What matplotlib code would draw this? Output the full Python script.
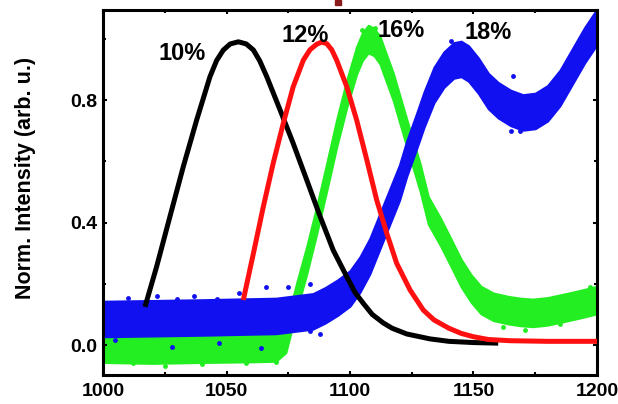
import numpy as np
import matplotlib
matplotlib.use("Agg")
import matplotlib.pyplot as plt
from matplotlib.patches import Rectangle
from matplotlib.ticker import MultipleLocator

# emission spectra, normalized (wavelength in nm)
black_x = [1017.0, 1021.7, 1027.1, 1032.5, 1037.9, 1043.3, 1046.0, 1048.7, 1051.5, 1054.8,
           1058.0, 1060.9, 1063.5, 1066.3, 1071.7, 1077.0, 1082.5, 1087.9, 1093.2, 1098.7,
           1102.0, 1105.4, 1109.0, 1113.5, 1117.0, 1123.0, 1132.4, 1140.0, 1150.0, 1160.0]
black_y = [0.125, 0.256, 0.42, 0.583, 0.735, 0.877, 0.93, 0.964, 0.984, 0.991,
           0.984, 0.964, 0.928, 0.877, 0.768, 0.659, 0.539, 0.42, 0.31, 0.223,
           0.172, 0.136, 0.100, 0.072, 0.055, 0.036, 0.02, 0.012, 0.008, 0.006]

red_x = [1056.8, 1060.9, 1064.9, 1068.9, 1073.0, 1077.0, 1081.1, 1083.8, 1086.5, 1088.5,
         1090.6, 1092.6, 1094.6, 1098.7, 1102.7, 1106.8, 1110.8, 1114.9, 1118.9, 1124.3,
         1129.7, 1134.0, 1140.0, 1145.0, 1150.0, 1156.0, 1165.0, 1180.0, 1200.0]
red_y = [0.147, 0.30, 0.452, 0.594, 0.725, 0.844, 0.931, 0.965, 0.983, 0.99,
         0.985, 0.965, 0.931, 0.844, 0.735, 0.605, 0.474, 0.365, 0.267, 0.18,
         0.114, 0.082, 0.055, 0.038, 0.027, 0.018, 0.014, 0.012, 0.012]

# noisy spectra: band centre and half width
green_x = [1000, 1020, 1040, 1060, 1070, 1074, 1078.4, 1082.5, 1086.5, 1090.6, 1094.6,
           1098.7, 1102.7, 1105.0, 1107.4, 1109.8, 1112.1, 1117.5, 1123.0, 1128.3, 1131.7,
           1136.6, 1141, 1145, 1149, 1153, 1158, 1164, 1169, 1174, 1180, 1188, 1194, 1200]
green_y = [-0.012, -0.015, -0.012, -0.01, -0.008, 0.02, 0.158, 0.278, 0.408, 0.55, 0.692,
           0.822, 0.931, 0.975, 1.0, 0.99, 0.964, 0.844, 0.692, 0.55, 0.44,
           0.37, 0.30, 0.235, 0.185, 0.147, 0.125, 0.114, 0.108, 0.105, 0.11, 0.124, 0.135,
           0.147]
green_w = 0.045

blue_x = [1000, 1040, 1070, 1085, 1090, 1095, 1100, 1104, 1108, 1112, 1116, 1120, 1123,
          1127, 1130, 1134, 1138, 1142, 1145, 1148, 1152, 1156, 1160, 1165, 1170, 1175,
          1180, 1185, 1190, 1195, 1200]
blue_y = [0.085, 0.09, 0.095, 0.11, 0.13, 0.155, 0.185, 0.23, 0.29, 0.37, 0.45, 0.53, 0.61,
          0.70, 0.77, 0.85, 0.90, 0.93, 0.935, 0.92, 0.88, 0.83, 0.80, 0.775, 0.76, 0.765,
          0.79, 0.84, 0.91, 0.98, 1.04]
blue_w = 0.058

# stray points outside the bands
blue_dots_x = [1010, 1022, 1030, 1037, 1046, 1055, 1066, 1075, 1084, 1005, 1028, 1047,
               1064, 1157, 1165, 1169, 1166, 1141, 1084, 1088]
blue_dots_y = [0.155, 0.16, 0.152, 0.16, 0.15, 0.17, 0.19, 0.19, 0.2, 0.015, -0.005,
               0.005, -0.01, 0.87, 0.70, 0.70, 0.88, 0.995, 0.045, 0.035]
green_dots_x = [1012, 1025, 1040, 1058, 1070, 1150, 1162, 1171, 1185, 1197, 1105, 1110]
green_dots_y = [-0.06, -0.068, -0.062, -0.06, -0.055, 0.19, 0.06, 0.048, 0.07, 0.19,
                1.03, 1.035]

labels = ["10%", "12%", "16%", "18%"]
label_x = [1032.2, 1082, 1120.9, 1155.9]
label_y = [0.953, 1.013, 1.028, 1.02]

font = "Liberation Sans"
green = "#22ee22"
blue = "#1010f0"

fig = plt.figure(figsize=(6.18, 4.04), dpi=100)
ax = fig.add_axes([0.1667, 0.0718, 0.7993, 0.9035])

gx, gy = np.array(green_x), np.array(green_y)
ax.fill_between(gx, gy - green_w, gy + green_w, color=green, lw=1.5, zorder=1)
ax.plot(green_dots_x, green_dots_y, "o", color=green, ms=3.5, mew=0, zorder=1)
bx, by = np.array(blue_x), np.array(blue_y)
ax.fill_between(bx, by - blue_w, by + blue_w, color=blue, lw=1.5, zorder=2)
ax.plot(blue_dots_x, blue_dots_y, "o", color=blue, ms=3.5, mew=0, zorder=2)
ax.plot(black_x, black_y, color="black", lw=3.6, zorder=3,
        solid_capstyle="butt", solid_joinstyle="round")
ax.plot(red_x, red_y, color="#ff1010", lw=3.6, zorder=4,
        solid_capstyle="butt", solid_joinstyle="round")

for t, x, y in zip(labels, label_x, label_y):
    ax.text(x, y, t, ha="center", va="center", fontsize=17, fontweight="bold",
            family=font, zorder=5)

ax.set_xlim(1000, 1200)
ax.set_ylim(-0.098, 1.095)
ax.xaxis.set_major_locator(MultipleLocator(50))
ax.xaxis.set_minor_locator(MultipleLocator(25))
ax.yaxis.set_major_locator(MultipleLocator(0.4))
ax.yaxis.set_minor_locator(MultipleLocator(0.2))
ax.tick_params(which="both", direction="in", top=True, right=True, width=1.5)
ax.tick_params(which="major", length=3)
ax.tick_params(which="minor", length=2)
ax.tick_params(axis="x", pad=6)
ax.tick_params(axis="y", pad=4)
for lab in ax.get_xticklabels() + ax.get_yticklabels():
    lab.set_fontsize(14)
    lab.set_fontweight("bold")
    lab.set_family(font)
for s in ax.spines.values():
    s.set_linewidth(2.2)

ax.set_ylabel("Norm. Intensity (arb. u.)", fontsize=15.5, fontweight="bold", family=font)
ax.yaxis.set_label_coords(-0.136, 0.54)

# small dark red mark above the frame
fig.patches.append(Rectangle((335 / 618, 1 - 5 / 404), 6 / 618, 5 / 404,
                             transform=fig.transFigure, color="#8b1a1a"))

fig.savefig("out.png", dpi=100)
